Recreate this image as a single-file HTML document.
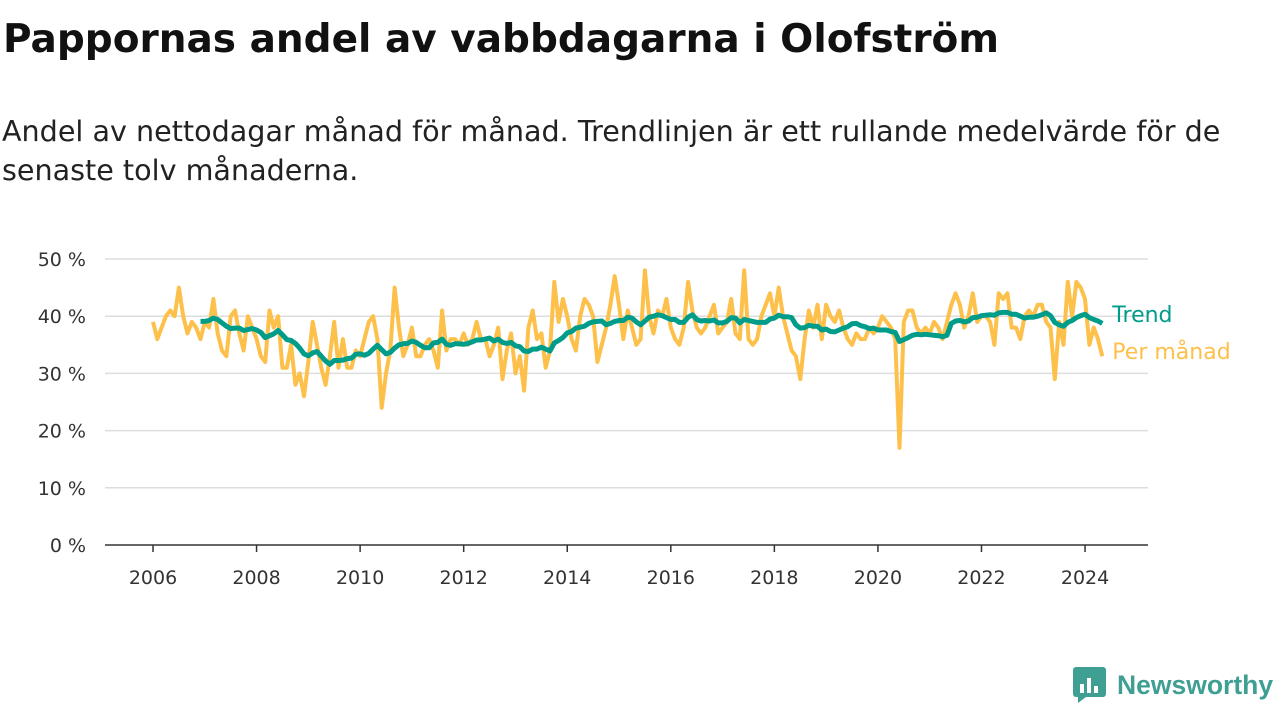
<!DOCTYPE html>
<html><head><meta charset="utf-8"><style>
body{margin:0;width:1280px;height:720px;background:#fff;font-family:"DejaVu Sans","Liberation Sans",sans-serif;overflow:hidden;position:relative}
h1{position:absolute;left:3px;top:17px;margin:0;font-size:39px;font-weight:bold;color:#111;white-space:nowrap}
.sub{position:absolute;left:2px;top:112px;font-size:28.6px;line-height:39px;color:#222;width:1278px;white-space:nowrap}
</style></head><body>
<h1>Pappornas andel av vabbdagarna i Olofström</h1>
<div class="sub">Andel av nettodagar månad för månad. Trendlinjen är ett rullande medelvärde för de<br>senaste tolv månaderna.</div>
<svg id="chart" width="1280" height="720" style="position:absolute;left:0;top:0"></svg>
<div style="position:absolute;left:1072px;top:666px;display:flex;align-items:center">
<svg width="36" height="38"><rect x="1" y="1" width="33" height="30" rx="3" fill="#3f9f93"/><polygon points="6,31 14,31 6,37" fill="#3f9f93"/><rect x="8" y="18" width="4" height="9" fill="#fff"/><rect x="15" y="12" width="4" height="15" fill="#fff"/><rect x="22" y="20" width="4" height="7" fill="#fff"/></svg>
<span style="font-size:26.5px;font-weight:bold;color:#3f9f93;margin-left:9px;font-family:'Liberation Sans',sans-serif">Newsworthy</span></div>
<script>
const yTicks=[0,10,20,30,40,50];
const xTicks=[2006,2008,2010,2012,2014,2016,2018,2020,2022,2024];
const startYear=2006;
const monthly=[
39,36,38,40,41,40,45,40,37,39,38,36,
39,38,43,37,34,33,40,41,37,34,40,38,
36,33,32,41,38,40,31,31,35,28,30,26,
32,39,35,31,28,33,39,31,36,31,31,34,
33,36,39,40,36,24,30,34,45,38,33,35,
38,33,33,35,36,34,31,41,34,36,36,35,
37,35,36,39,36,36,33,35,38,29,34,37,
30,33,27,38,41,36,37,31,34,46,39,43,
40,36,34,40,43,42,40,32,35,38,42,47,
42,36,41,38,35,36,48,40,37,41,40,43,
38,36,35,38,46,41,38,37,38,40,42,37,
38,39,43,37,36,48,36,35,36,40,42,44,
40,45,40,37,34,33,29,36,41,38,42,36,
42,40,39,41,38,36,35,37,36,36,38,37,
38,40,39,38,36,17,39,41,41,38,37,38,
37,39,38,36,39,42,44,42,38,40,44,39,
40,40,39,35,44,43,44,38,38,36,40,41,
40,42,42,39,38,29,39,35,46,40,46,45,
43,35,38,36,33];
const trend=monthly.map((v,i)=>{if(i<11)return null;let s=0;for(let k=i-11;k<=i;k++)s+=monthly[k];return s/12;});
const NS="http://www.w3.org/2000/svg",svg=document.getElementById('chart');
const X=t=>153+(t-startYear)*51.78, Y=v=>545-v*5.72;
function mk(tag,a,txt){const e=document.createElementNS(NS,tag);for(const k in a)e.setAttribute(k,a[k]);if(txt!=null)e.textContent=txt;svg.appendChild(e);return e;}
yTicks.forEach(t=>{
 const g=mk('line',{x1:105,x2:1148,y1:Y(t),y2:Y(t),stroke:t===0?'#333':'#ddd','stroke-width':1.5});
 
 
 const l=mk('text',{x:86,y:Y(t)+7,'text-anchor':'end','font-size':19,fill:'#333'},t+' %');
 
 
});
xTicks.forEach(t=>{
 const tk=mk('line',{x1:X(t),x2:X(t),y1:545,y2:552,stroke:'#333','stroke-width':1.5});
 
 
 const l=mk('text',{x:X(t),y:584,'text-anchor':'middle','font-size':19,fill:'#333'},t);
 
 
});
function path(arr){let d='';arr.forEach((v,i)=>{if(v==null)return;d+=(d?'L':'M')+X(startYear+i/12).toFixed(1)+','+Y(v).toFixed(1);});return d;}
const pm=mk('path',{d:path(monthly),fill:'none',stroke:'#fdc04a','stroke-width':4,'stroke-linejoin':'round'});


const pt=mk('path',{d:path(trend),fill:'none',stroke:'#009c8a','stroke-width':5,'stroke-linejoin':'round'});


const n=monthly.length-1,lx=X(startYear+n/12)+10;
const lt=mk('text',{x:lx,y:322,'font-size':22,fill:'#009c8a'},'Trend');


const lm=mk('text',{x:lx,y:359,'font-size':22,fill:'#fdc04a'},'Per månad');


</script>
</body></html>
